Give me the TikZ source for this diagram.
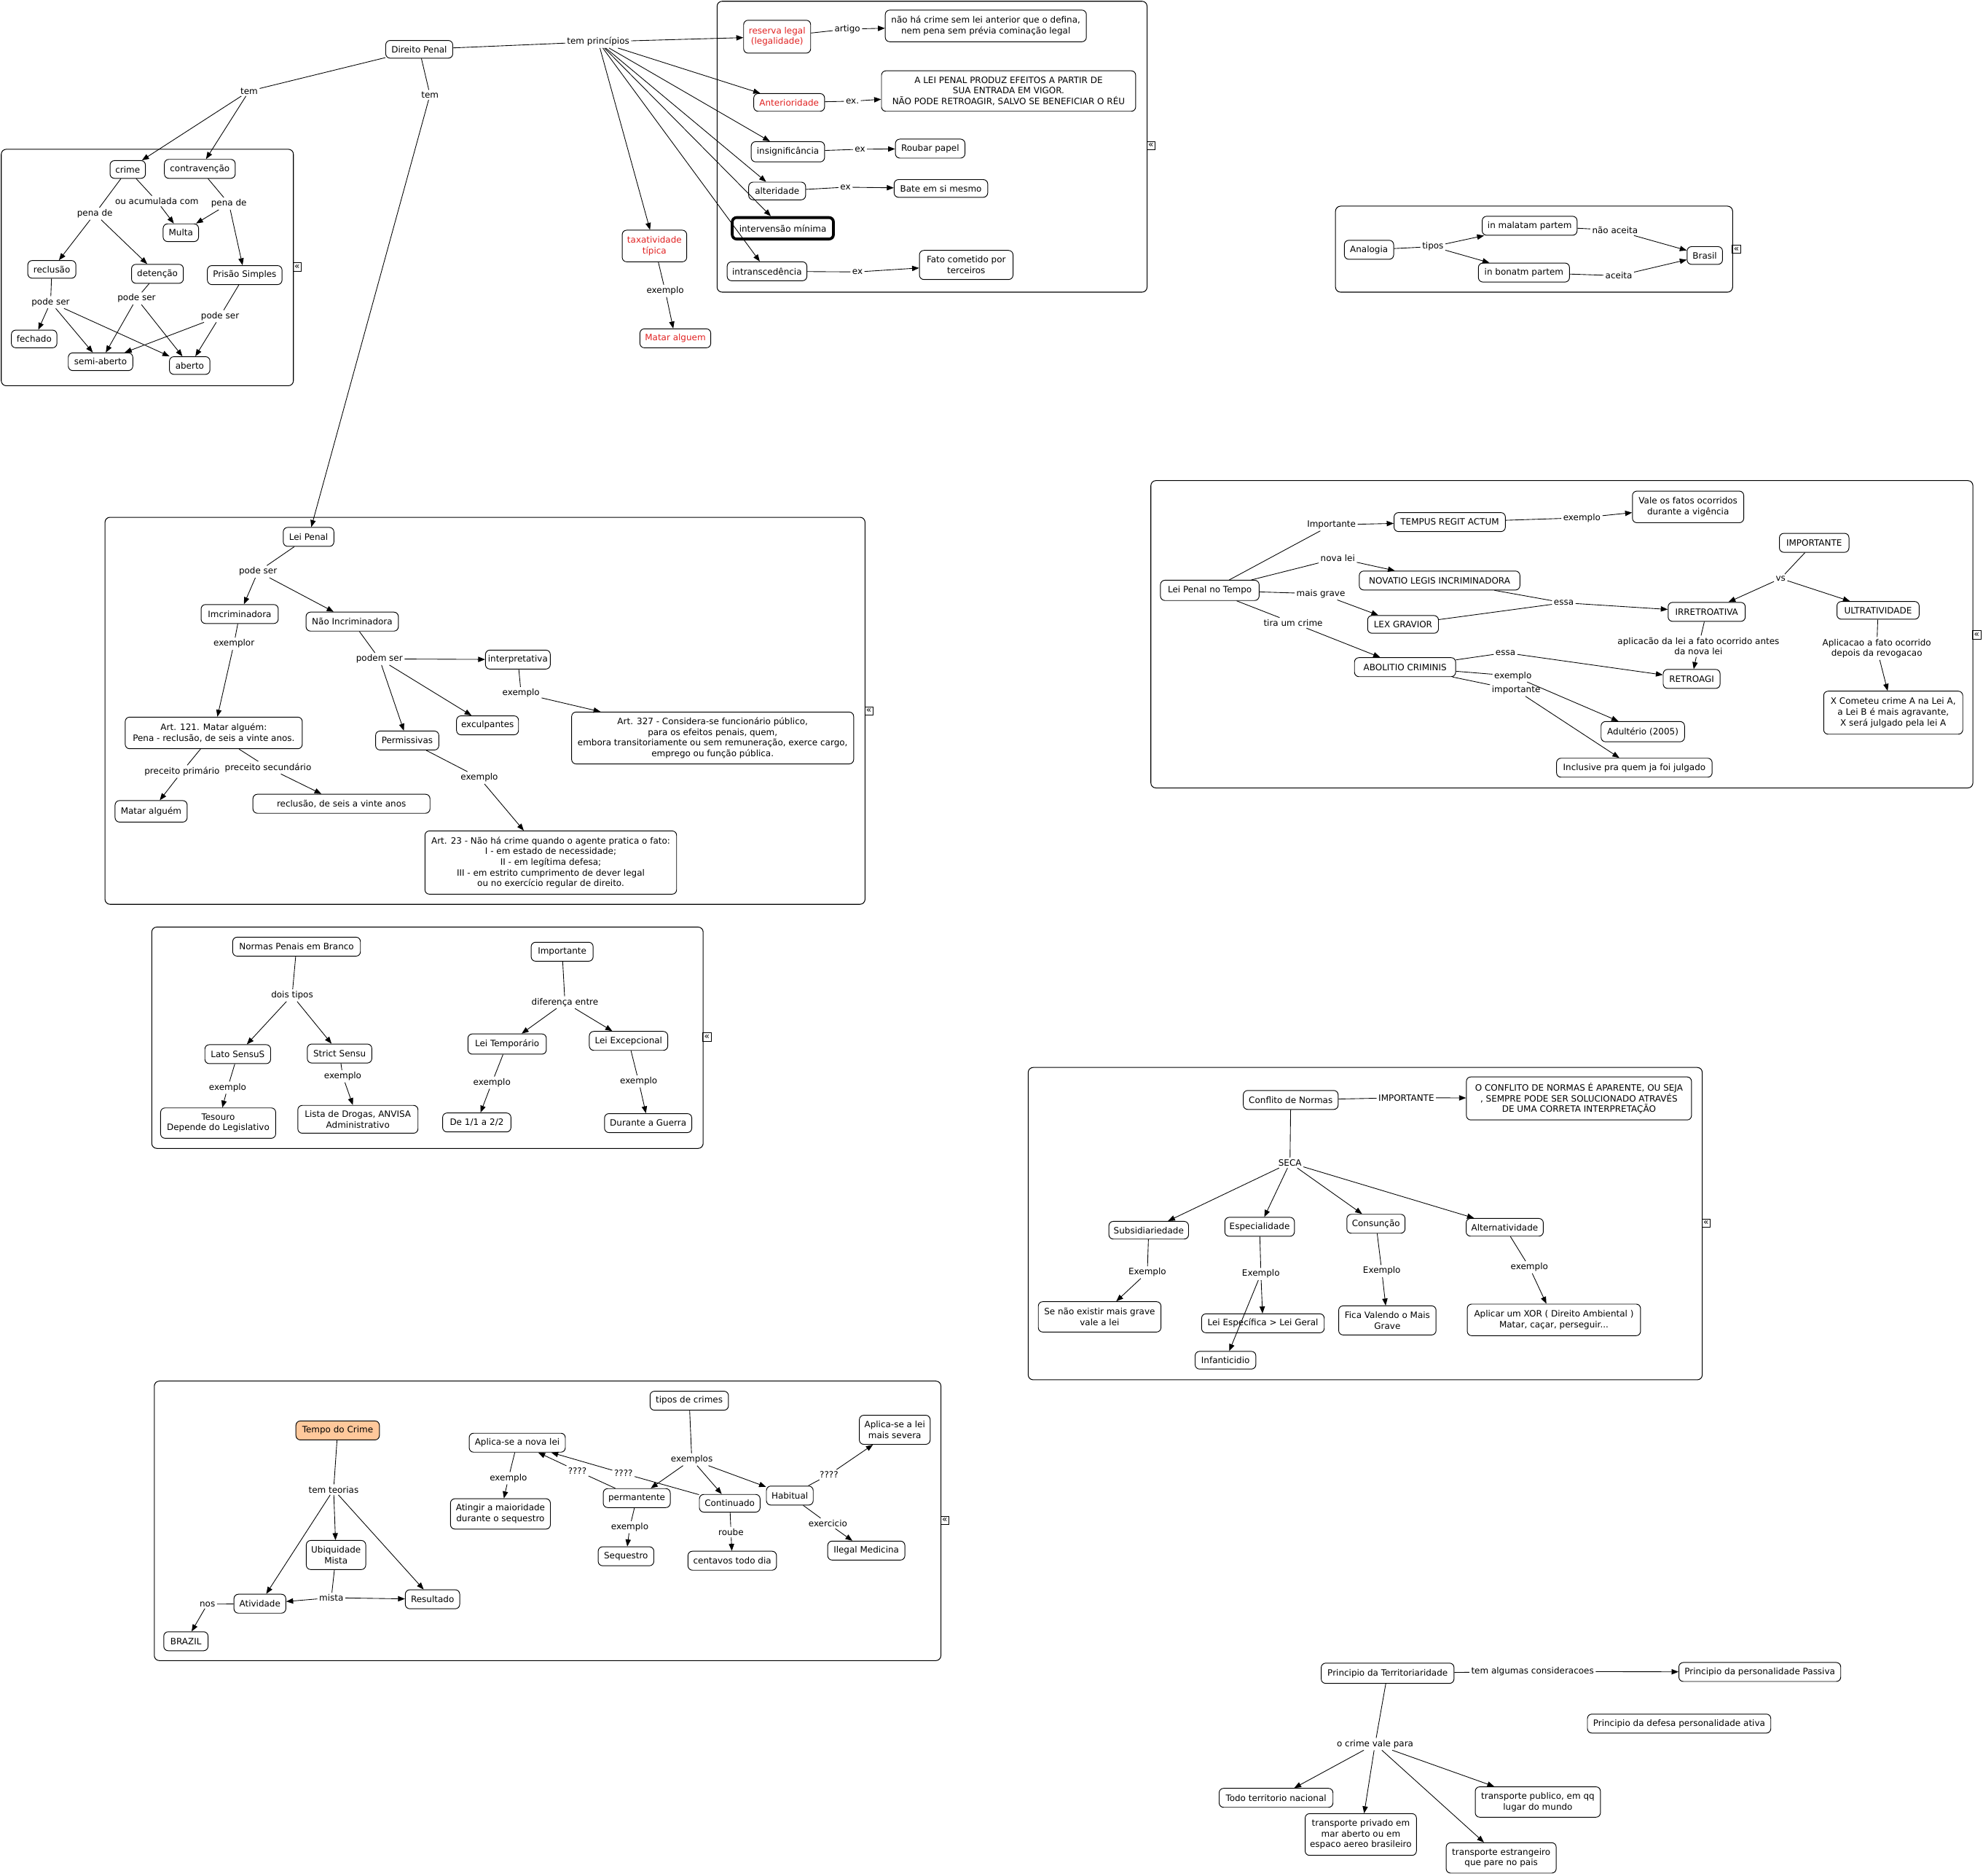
\documentclass[tikz,border=0pt]{standalone}
\usepackage{fontspec}
\setmainfont{DejaVu Sans}
\usetikzlibrary{arrows.meta}
\newcommand\dfont{\fontsize{6.9}{8.4}\selectfont}
\definecolor{cmred}{RGB}{224,32,32}
\definecolor{peach}{RGB}{255,200,155}
\tikzset{
  box/.style={draw, line width=0.55pt, rounded corners=3.5pt, align=center, font=\dfont, inner xsep=2pt, inner ysep=1.5pt},
  bx/.style 2 args={box, minimum width=#1pt, minimum height=#2pt},
  lbl/.style={font=\dfont, inner sep=1.3pt, align=center},
  ln/.style={line width=0.5pt},
  ar/.style={line width=0.5pt, -{Triangle[length=5.5pt,width=4.2pt]}},
  grp/.style={line width=0.6pt, rounded corners=4pt},
  icon/.style={draw, line width=0.5pt, inner sep=0pt, minimum size=6.5pt, font=\fontsize{7}{7}\selectfont},
  redtxt/.style={text=cmred},
}
\begin{document}
\begin{tikzpicture}[x=1pt,y=-1pt]
\useasboundingbox (0,0) rectangle (1568,1483);

% ---------- group frames ----------
\draw[grp] (567,1) rectangle (907,231);
\draw[grp] (1,118) rectangle (232,305);
\draw[grp] (83,409) rectangle (684,715);
\draw[grp] (120,733) rectangle (556,908);
\draw[grp] (122,1092) rectangle (744,1313);
\draw[grp] (1056,163) rectangle (1370,231);
\draw[grp] (910,380) rectangle (1560,623);
\draw[grp] (813,844) rectangle (1346,1091);

\node[icon] (ic1) at (910,115) {«};
\node[icon] (ic2) at (235,211) {«};
\node[icon] (ic3) at (687,562) {«};
\node[icon] (ic4) at (559,820) {«};
\node[icon] (ic5) at (747,1202) {«};
\node[icon] (ic6) at (1373,197) {«};
\node[icon] (ic7) at (1563,502) {«};
\node[icon] (ic8) at (1349,967) {«};

% ---------- top ----------
\node[bx={53}{14}] (dp) at (331.5,39) {Direito Penal};
\node[lbl] (ltp) at (473,33) {tem princípios};
\node[lbl] (ltem1) at (197,72) {tem};
\node[lbl] (ltem2) at (340,75) {tem};

\node[bx={53}{26}, redtxt] (reserva) at (614.5,29) {reserva legal\\(legalidade)};
\node[lbl] (lartigo) at (670,23) {artigo};
\node[bx={159}{25}] (naoha) at (779.5,20.5) {não há crime sem lei anterior que o defina,\\nem pena sem prévia cominação legal};
\node[bx={56}{14}, redtxt] (anter) at (624,81) {Anterioridade};
\node[lbl] (lex1) at (674,80) {ex.};
\node[bx={201}{32}] (aleipenal) at (797.5,72) {A LEI PENAL PRODUZ EFEITOS A PARTIR DE\\SUA ENTRADA EM VIGOR.\\NÃO PODE RETROAGIR, SALVO SE BENEFICIAR O RÉU};
\node[bx={58}{16}] (insig) at (623,120) {insignificância};
\node[lbl] (lex2) at (680,118) {ex};
\node[bx={55}{15}] (roubar) at (735.5,117.5) {Roubar papel};
\node[bx={45}{14}] (alter) at (614.5,151) {alteridade};
\node[lbl] (lex3) at (668.5,148) {ex};
\node[bx={74}{14}] (bate) at (744,149) {Bate em si mesmo};
\node[bx={80}{17}, line width=2.2pt] (interv) at (619,180.5) {intervensão mínima};
\node[bx={63}{15}] (intrans) at (606.5,214.5) {intranscedência};
\node[lbl] (lex4) at (678,215) {ex};
\node[bx={74}{23}] (fato) at (764,209.5) {Fato cometido por\\terceiros};
\node[bx={51}{25}, redtxt] (taxa) at (517.5,194.5) {taxatividade\\típica};
\node[lbl] (lext) at (526,230) {exemplo};
\node[bx={56}{15}, redtxt] (matarr) at (534,267.5) {Matar alguem};

\draw[ln] (dp) -- (ltp); \draw[ar] (ltp) -- (reserva);
\draw[ar] (ltp) -- (anter);
\draw[ar] (ltp) -- (insig);
\draw[ar] (ltp) -- (alter);
\draw[ar] (ltp) -- (interv);
\draw[ar] (ltp) -- (intrans);
\draw[ar] (ltp) -- (taxa);
\draw[ln] (reserva) -- (lartigo); \draw[ar] (lartigo) -- (naoha);
\draw[ln] (anter) -- (lex1); \draw[ar] (lex1) -- (aleipenal);
\draw[ln] (insig) -- (lex2); \draw[ar] (lex2) -- (roubar);
\draw[ln] (alter) -- (lex3); \draw[ar] (lex3) -- (bate);
\draw[ln] (intrans) -- (lex4); \draw[ar] (lex4) -- (fato);
\draw[ln] (taxa) -- (lext); \draw[ar] (lext) -- (matarr);
\draw[ln] (dp) -- (ltem1);
\draw[ln] (dp) -- (ltem2);

% ---------- crime cluster ----------
\node[bx={28}{14}] (crime) at (101,134) {crime};
\node[bx={56}{15}] (contrav) at (158,133.5) {contravenção};
\node[lbl] (louac) at (124,159) {ou acumulada com};
\node[lbl] (lpena1) at (75,169) {pena de};
\node[lbl] (lpena2) at (181,161) {pena de};
\node[bx={28}{14}] (multa) at (143,184) {Multa};
\node[bx={38}{14}] (reclusao) at (41,213) {reclusão};
\node[bx={41}{15}] (detencao) at (124.5,216.5) {detenção};
\node[bx={59}{15}] (prisao) at (193.5,217.5) {Prisão Simples};
\node[lbl] (lps1) at (40,239) {pode ser};
\node[lbl] (lps2) at (108,236) {pode ser};
\node[lbl] (lps3) at (174,250) {pode ser};
\node[bx={36}{14}] (fechado) at (27,268) {fechado};
\node[bx={51}{14}] (semi) at (79.5,286) {semi-aberto};
\node[bx={32}{14}] (aberto) at (150,289) {aberto};

\draw[ar] (ltem1) -- (crime); \draw[ar] (ltem1) -- (contrav);
\draw[ln] (crime) -- (lpena1); \draw[ar] (lpena1) -- (reclusao); \draw[ar] (lpena1) -- (detencao);
\draw[ln] (crime) -- (louac); \draw[ar] (louac) -- (multa);
\draw[ln] (contrav) -- (lpena2); \draw[ar] (lpena2) -- (multa); \draw[ar] (lpena2) -- (prisao);
\draw[ln] (reclusao) -- (lps1); \draw[ar] (lps1) -- (fechado); \draw[ar] (lps1) -- (semi); \draw[ar] (lps1) -- (aberto);
\draw[ln] (detencao) -- (lps2); \draw[ar] (lps2) -- (semi); \draw[ar] (lps2) -- (aberto);
\draw[ln] (prisao) -- (lps3); \draw[ar] (lps3) -- (semi); \draw[ar] (lps3) -- (aberto);

% ---------- Lei Penal ----------
\node[bx={40}{15}] (leipenal) at (244,424.5) {Lei Penal};
\node[lbl] (lpode) at (204,452) {pode ser};
\node[bx={61}{15}] (imcrim) at (189.5,485.5) {Imcriminadora};
\node[bx={73}{15}] (naoinc) at (278.5,491.5) {Não Incriminadora};
\node[lbl] (lexemplor) at (185,509) {exemplor};
\node[lbl] (lpodem) at (300,521) {podem ser};
\node[bx={51}{15}] (interp) at (409.5,521.5) {interpretativa};
\node[lbl] (lexi) at (412,548) {exemplo};
\node[bx={49}{15}] (exculp) at (385.5,573.5) {exculpantes};
\node[bx={50}{15}] (permis) at (322,585.5) {Permissivas};
\node[bx={223}{41}] (art327) at (563.5,583.5) {Art. 327 - Considera-se funcionário público,\\para os efeitos penais, quem,\\embora transitoriamente ou sem remuneração, exerce cargo,\\emprego ou função pública.};
\node[bx={140}{25}] (art121) at (169,579.5) {Art. 121. Matar alguém:\\Pena - reclusão, de seis a vinte anos.};
\node[lbl] (lprim) at (144,610) {preceito primário};
\node[lbl] (lsec) at (212,607) {preceito secundário};
\node[bx={57}{17}] (matar2) at (119.5,641.5) {Matar alguém};
\node[bx={140}{15}] (reclusao6) at (270,635.5) {reclusão, de seis a vinte anos};
\node[lbl] (lexp23) at (379,615) {exemplo};
\node[bx={199}{50}] (art23) at (435.5,682) {Art. 23 - Não há crime quando o agente pratica o fato:\\I - em estado de necessidade;\\II - em legítima defesa;\\III - em estrito cumprimento de dever legal\\ou no exercício regular de direito.};

\draw[ar] (ltem2) -- (leipenal);
\draw[ln] (leipenal) -- (lpode); \draw[ar] (lpode) -- (imcrim); \draw[ar] (lpode) -- (naoinc);
\draw[ln] (imcrim) -- (lexemplor); \draw[ar] (lexemplor) -- (art121);
\draw[ln] (naoinc) -- (lpodem); \draw[ar] (lpodem) -- (interp); \draw[ar] (lpodem) -- (exculp); \draw[ar] (lpodem) -- (permis);
\draw[ln] (interp) -- (lexi); \draw[ar] (lexi) -- (art327);
\draw[ln] (permis) -- (lexp23); \draw[ar] (lexp23) -- (art23);
\draw[ln] (art121) -- (lprim); \draw[ar] (lprim) -- (matar2);
\draw[ln] (art121) -- (lsec); \draw[ar] (lsec) -- (reclusao6);

% ---------- Normas ----------
\node[bx={101}{15}] (normas) at (234.5,748.5) {Normas Penais em Branco};
\node[lbl] (ldois) at (231,787) {dois tipos};
\node[bx={52}{15}] (lato) at (188,833.5) {Lato SensuS};
\node[bx={51}{15}] (strict) at (268.5,833) {Strict Sensu};
\node[lbl] (lexl) at (180,860) {exemplo};
\node[lbl] (lexs) at (271,851) {exemplo};
\node[bx={91}{24}] (tesouro) at (172.5,888) {Tesouro\\Depende do Legislativo};
\node[bx={95}{22}] (lista) at (283,885) {Lista de Drogas, ANVISA\\Administrativo};
\node[bx={49}{15}] (importante1) at (444.5,752.5) {Importante};
\node[lbl] (ldif) at (446.7,792.6) {diferença entre};
\node[bx={62}{16}] (leitemp) at (401,825.5) {Lei Temporário};
\node[bx={62}{15}] (leiexc) at (497,823) {Lei Excepcional};
\node[lbl] (lext2) at (389,856) {exemplo};
\node[lbl] (lexe) at (505,855) {exemplo};
\node[bx={54}{15}] (de11) at (377,887.5) {De 1/1 a 2/2};
\node[bx={69}{15}] (guerra) at (512.5,888) {Durante a Guerra};

\draw[ln] (normas) -- (ldois); \draw[ar] (ldois) -- (lato); \draw[ar] (ldois) -- (strict);
\draw[ln] (lato) -- (lexl); \draw[ar] (lexl) -- (tesouro);
\draw[ln] (strict) -- (lexs); \draw[ar] (lexs) -- (lista);
\draw[ln] (importante1) -- (ldif); \draw[ar] (ldif) -- (leitemp); \draw[ar] (ldif) -- (leiexc);
\draw[ln] (leitemp) -- (lext2); \draw[ar] (lext2) -- (de11);
\draw[ln] (leiexc) -- (lexe); \draw[ar] (lexe) -- (guerra);

% ---------- Tempo do Crime ----------
\node[bx={66}{15}, fill=peach] (tempo) at (267,1131) {Tempo do Crime};
\node[lbl] (lteorias) at (263.8,1177.8) {tem teorias};
\node[bx={47}{23}] (ubiq) at (265.7,1229.5) {Ubiquidade\\Mista};
\node[bx={41}{15}] (ativ) at (205.5,1268) {Atividade};
\node[bx={43}{15}] (result) at (342,1264.5) {Resultado};
\node[lbl] (lmista) at (262,1263.3) {mista};
\node[lbl] (lnos) at (164,1268.4) {nos};
\node[bx={35}{15}] (brazil) at (147,1297.7) {BRAZIL};
\node[bx={62}{15}] (tipos) at (545,1107.5) {tipos de crimes};
\node[lbl] (lexemplos) at (547,1154) {exemplos};
\node[bx={76}{15}] (novalei) at (409,1140.7) {Aplica-se a nova lei};
\node[lbl] (lexa) at (402,1168.8) {exemplo};
\node[bx={79}{24}] (atingir) at (395.7,1197) {Atingir a maioridade\\durante o sequestro};
\node[lbl] (lq1) at (456.5,1163) {????};
\node[lbl] (lq2) at (493,1165) {????};
\node[bx={53}{15}] (perm) at (503.5,1184.5) {permantente};
\node[lbl] (lexp) at (498,1207.5) {exemplo};
\node[bx={44}{15}] (sequestro) at (495,1230.5) {Sequestro};
\node[bx={48}{14}] (contin) at (577,1188.6) {Continuado};
\node[lbl] (lroube) at (578,1211.3) {roube};
\node[bx={70}{15}] (centavos) at (579,1234) {centavos todo dia};
\node[bx={37}{15}] (habitual) at (624.5,1182.5) {Habitual};
\node[lbl] (lq3) at (655.5,1166) {????};
\node[bx={56}{23}] (severa) at (707.5,1130.5) {Aplica-se a lei\\mais severa};
\node[lbl] (lexerc) at (654.6,1204.5) {exercicio};
\node[bx={61}{15}] (ilegal) at (685,1226) {Ilegal Medicina};

\draw[ln] (tempo) -- (lteorias); \draw[ar] (lteorias) -- (ativ); \draw[ar] (lteorias) -- (ubiq); \draw[ar] (lteorias) -- (result);
\draw[ln] (ubiq) -- (lmista); \draw[ar] (lmista) -- (ativ); \draw[ar] (lmista) -- (result);
\draw[ln] (ativ) -- (lnos); \draw[ar] (lnos) -- (brazil);
\draw[ln] (tipos) -- (lexemplos); \draw[ar] (lexemplos) -- (perm); \draw[ar] (lexemplos) -- (contin); \draw[ar] (lexemplos) -- (habitual);
\draw[ln] (perm) -- (lq1); \draw[ar] (lq1) -- (novalei);
\draw[ln] (contin) -- (lq2); \draw[ar] (lq2) -- (novalei);
\draw[ln] (habitual) -- (lq3); \draw[ar] (lq3) -- (severa);
\draw[ln] (novalei) -- (lexa); \draw[ar] (lexa) -- (atingir);
\draw[ln] (perm) -- (lexp); \draw[ar] (lexp) -- (sequestro);
\draw[ln] (contin) -- (lroube); \draw[ar] (lroube) -- (centavos);
\draw[ln] (habitual) -- (lexerc); \draw[ar] (lexerc) -- (ilegal);

% ---------- Analogia ----------
\node[bx={39}{15}] (analogia) at (1082.5,197.5) {Analogia};
\node[lbl] (ltipos) at (1133,195) {tipos};
\node[bx={75}{15}] (malatam) at (1209.5,178.5) {in malatam partem};
\node[bx={72}{15}] (bonatm) at (1205,215.5) {in bonatm partem};
\node[lbl] (lnaoac) at (1277,182) {não aceita};
\node[lbl] (laceita) at (1280,218) {aceita};
\node[bx={28}{14}] (brasil) at (1348,202) {Brasil};

\draw[ln] (analogia) -- (ltipos); \draw[ar] (ltipos) -- (malatam); \draw[ar] (ltipos) -- (bonatm);
\draw[ln] (malatam) -- (lnaoac); \draw[ar] (lnaoac) -- (brasil);
\draw[ln] (bonatm) -- (laceita); \draw[ar] (laceita) -- (brasil);

% ---------- Lei Penal no Tempo ----------
\node[bx={78}{16}] (lpt) at (956.6,466.8) {Lei Penal no Tempo};
\node[lbl] (limp) at (1052.8,415) {Importante};
\node[bx={88}{15}] (tempus) at (1146.3,412.8) {TEMPUS REGIT ACTUM};
\node[lbl] (lexv) at (1250.8,409.4) {exemplo};
\node[bx={88}{25}] (vale) at (1334.8,400.8) {Vale os fatos ocorridos\\durante a vigência};
\node[lbl] (lnova) at (1057.8,441.3) {nova lei};
\node[bx={127}{15}] (novatio) at (1138.3,459) {NOVATIO LEGIS INCRIMINADORA};
\node[lbl] (lmais) at (1044.4,469.5) {mais grave};
\node[bx={56}{14}] (lexg) at (1109.4,493.7) {LEX GRAVIOR};
\node[lbl] (lessa1) at (1236.5,476.6) {essa};
\node[bx={61}{15}] (irretro) at (1349.5,483.8) {IRRETROATIVA};
\node[bx={55}{15}] (IMPT) at (1434.5,429.2) {IMPORTANTE};
\node[lbl] (lvs) at (1408,457.4) {vs};
\node[bx={65}{14}] (ultra) at (1485,482.6) {ULTRATIVIDADE};
\node[lbl] (laplic1) at (1343,511) {aplicacão da lei a fato ocorrido antes\\da nova lei};
\node[bx={45}{15}] (retroagi) at (1337.6,536.8) {RETROAGI};
\node[lbl] (laplic2) at (1484,512.7) {Aplicacao a fato ocorrido\\depois da revogacao};
\node[bx={110}{34}] (xcom) at (1497,563.5) {X Cometeu crime A na Lei A,\\a Lei B é mais agravante,\\X será julgado pela lei A};
\node[lbl] (ltira) at (1022.5,492.5) {tira um crime};
\node[bx={80}{15}] (abol) at (1111,527.5) {ABOLITIO CRIMINIS};
\node[lbl] (lessa2) at (1190.4,516.1) {essa};
\node[lbl] (lexad) at (1196.3,534.4) {exemplo};
\node[lbl] (limpt) at (1198.8,545.7) {importante};
\node[bx={66}{16}] (adult) at (1299,578.5) {Adultério (2005)};
\node[bx={123}{15}] (inclus) at (1292.3,607) {Inclusive pra quem ja foi julgado};

\draw[ln] (lpt) -- (limp); \draw[ar] (limp) -- (tempus);
\draw[ln] (tempus) -- (lexv); \draw[ar] (lexv) -- (vale);
\draw[ln] (lpt) -- (lnova); \draw[ar] (lnova) -- (novatio);
\draw[ln] (lpt) -- (lmais); \draw[ar] (lmais) -- (lexg);
\draw[ln] (novatio) -- (lessa1); \draw[ln] (lexg) -- (lessa1); \draw[ar] (lessa1) -- (irretro);
\draw[ln] (IMPT) -- (lvs); \draw[ar] (lvs) -- (irretro); \draw[ar] (lvs) -- (ultra);
\draw[ln] (irretro) -- (laplic1); \draw[ar] (laplic1) -- (retroagi);
\draw[ln] (ultra) -- (laplic2); \draw[ar] (laplic2) -- (xcom);
\draw[ln] (lpt) -- (ltira); \draw[ar] (ltira) -- (abol);
\draw[ln] (abol) -- (lessa2); \draw[ar] (lessa2) -- (retroagi);
\draw[ln] (abol) -- (lexad); \draw[ar] (lexad) -- (adult);
\draw[ln] (abol) -- (limpt); \draw[ar] (limpt) -- (inclus);

% ---------- Conflito de Normas ----------
\node[bx={75}{15}] (conflito) at (1020.6,869.7) {Conflito de Normas};
\node[lbl] (lIMP) at (1112,867.9) {IMPORTANTE};
\node[bx={178}{34}] (oconf) at (1248.5,868.5) {O CONFLITO DE NORMAS É APARENTE, OU SEJA\\, SEMPRE PODE SER SOLUCIONADO ATRAVÉS\\DE UMA CORRETA INTERPRETAÇÃO};
\node[lbl] (lseca) at (1020,919.4) {SECA};
\node[bx={63}{14}] (subs) at (908.3,972.7) {Subsidiariedade};
\node[bx={55}{15}] (espec) at (996,970) {Especialidade};
\node[bx={46}{15}] (consun) at (1088,967.6) {Consunção};
\node[bx={61}{14}] (altern) at (1189.8,970.4) {Alternatividade};
\node[lbl] (lE1) at (907.2,1006) {Exemplo};
\node[lbl] (lE2) at (997,1007.3) {Exemplo};
\node[lbl] (lE3) at (1092.6,1005) {Exemplo};
\node[lbl] (lE4) at (1209.3,1002) {exemplo};
\node[bx={97}{24}] (senao) at (869.5,1041.2) {Se não existir mais grave\\vale a lei};
\node[bx={97}{15}] (leiesp) at (998.6,1046.3) {Lei Específica > Lei Geral};
\node[bx={48}{14}] (infant) at (969,1075.5) {Infanticidio};
\node[bx={77}{23}] (fica) at (1097,1044) {Fica Valendo o Mais\\Grave};
\node[bx={137}{25}] (xor) at (1228.7,1043.6) {Aplicar um XOR ( Direito Ambiental )\\Matar, caçar, perseguir...};

\draw[ln] (conflito) -- (lIMP); \draw[ar] (lIMP) -- (oconf);
\draw[ln] (conflito) -- (lseca); \draw[ar] (lseca) -- (subs); \draw[ar] (lseca) -- (espec); \draw[ar] (lseca) -- (consun); \draw[ar] (lseca) -- (altern);
\draw[ln] (subs) -- (lE1); \draw[ar] (lE1) -- (senao);
\draw[ln] (espec) -- (lE2); \draw[ar] (lE2) -- (leiesp); \draw[ar] (lE2) -- (infant);
\draw[ln] (consun) -- (lE3); \draw[ar] (lE3) -- (fica);
\draw[ln] (altern) -- (lE4); \draw[ar] (lE4) -- (xor);

% ---------- Territoriaridade ----------
\node[bx={105}{16}] (terr) at (1097.2,1323) {Principio da Territoriaridade};
\node[lbl] (ltemalg) at (1211.8,1321.6) {tem algumas consideracoes};
\node[bx={128}{15}] (passiva) at (1391.5,1322) {Principio da personalidade Passiva};
\node[bx={145}{15}] (ativa) at (1327.7,1362.8) {Principio da defesa personalidade ativa};
\node[lbl] (lvale) at (1087.3,1379) {o crime vale para};
\node[bx={90}{15}] (todo) at (1009,1421.5) {Todo territorio nacional};
\node[bx={88}{33}] (tpriv) at (1076,1450.5) {transporte privado em\\mar aberto ou em\\espaco aereo brasileiro};
\node[bx={99}{24}] (tpub) at (1216,1424.8) {transporte publico, em qq\\lugar do mundo};
\node[bx={87}{24}] (testr) at (1187,1469) {transporte estrangeiro\\que pare no pais};

\draw[ln] (terr) -- (ltemalg); \draw[ar] (ltemalg) -- (passiva);
\draw[ln] (terr) -- (lvale); \draw[ar] (lvale) -- (todo); \draw[ar] (lvale) -- (tpriv); \draw[ar] (lvale) -- (tpub); \draw[ar] (lvale) -- (testr);
\end{tikzpicture}
\end{document}
